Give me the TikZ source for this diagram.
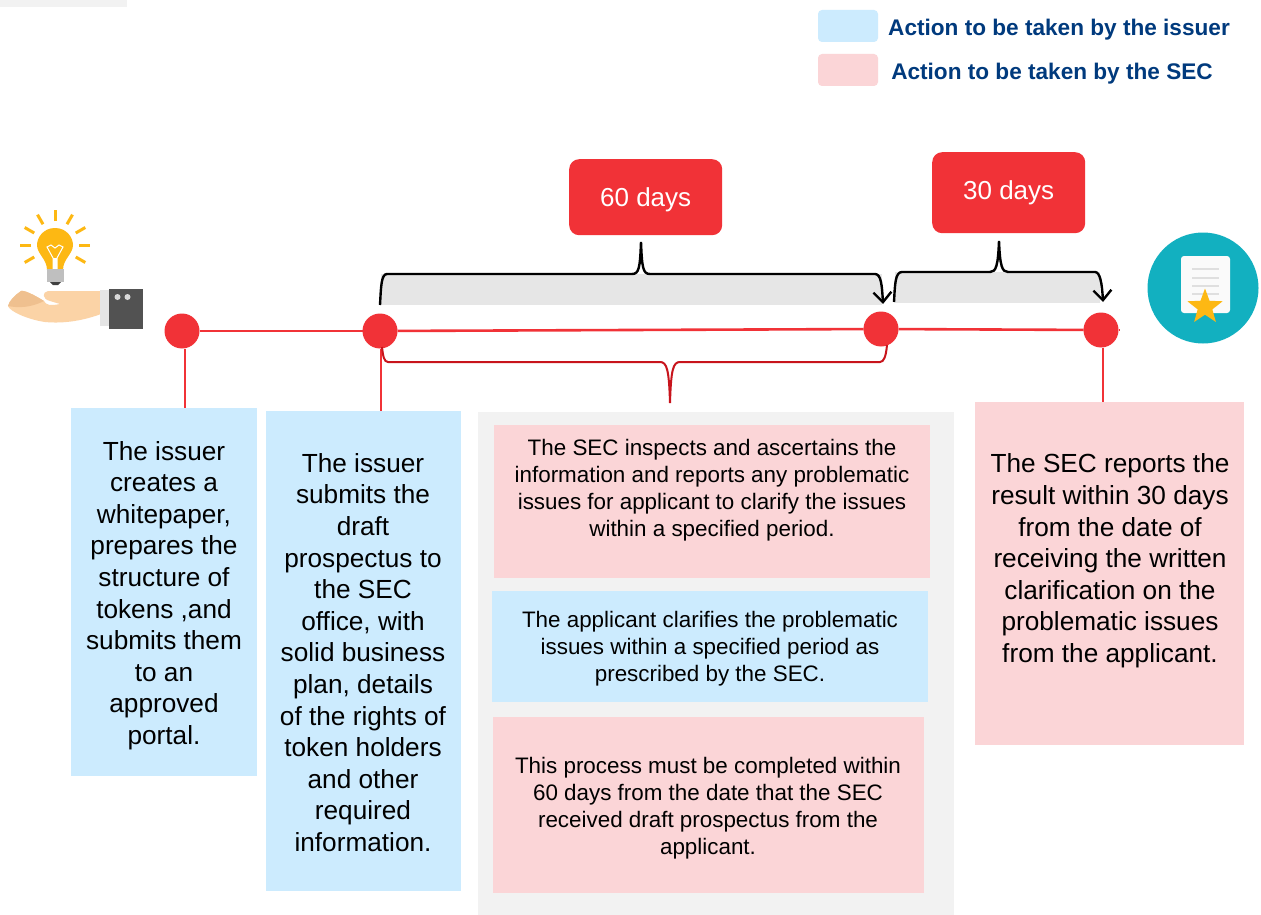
\documentclass[tikz,border=0pt]{standalone}
\usepackage{fontspec}
\setmainfont{Liberation Sans}
\usetikzlibrary{arrows.meta,shapes.geometric}
\definecolor{issuerblue}{HTML}{CCEBFE}
\definecolor{secpink}{HTML}{FBD5D7}
\definecolor{dotred}{HTML}{F13237}
\definecolor{darkred}{HTML}{C8141C}
\definecolor{navy}{HTML}{003A7D}
\definecolor{bandgray}{HTML}{E6E6E6}
\definecolor{panel}{HTML}{F2F2F2}
\definecolor{teal}{HTML}{12B0C0}
\definecolor{gold}{HTML}{FDB813}
\definecolor{skin}{HTML}{FBD3A6}
\definecolor{skindark}{HTML}{EFC08F}
\tikzset{
  x=1pt,y=-1pt,
  boxnode/.style={anchor=north west,inner sep=0pt,outer sep=0pt},
  bluebox/.style={boxnode,fill=issuerblue},
  pinkbox/.style={boxnode,fill=secpink},
  bigtext/.style={inner sep=0pt,align=center,font=\fontsize{26.2}{31.6}\selectfont},
  smalltext/.style={inner sep=0pt,align=center,font=\fontsize{22.4}{27.1}\selectfont},
  legendtext/.style={inner sep=0pt,text=navy,font=\bfseries\fontsize{22.6}{26}\selectfont},
  dot/.style={circle,fill=dotred,minimum size=35pt,inner sep=0pt,outer sep=0pt},
  tagbox/.style={anchor=north west,fill=dotred,rounded corners=10pt,inner sep=0pt,text=white,font=\fontsize{26}{30}\selectfont},
  redline/.style={draw=dotred,line width=2.6pt},
  blackbrace/.style={draw=black,line width=2.4pt},
  redbrace/.style={draw=darkred,line width=2pt},
  arrowed/.style={-{Straight Barb[length=10pt,width=18pt,line width=2.4pt]}},
}
\begin{document}
\begin{tikzpicture}
\useasboundingbox[fill=white] (0,0) rectangle (1261,915);
\fill[panel] (0,0) rectangle (127,7);
% legend
\node[bluebox,rounded corners=4pt,minimum width=60pt,minimum height=32pt] (legblue) at (818,10) {};
\node[pinkbox,rounded corners=4pt,minimum width=60pt,minimum height=32pt] (legpink) at (818,54) {};
\node[legendtext] (legbluet) at (1059,30) {Action to be taken by the issuer};
\node[legendtext] (legpinkt) at (1052,74) {Action to be taken by the SEC};
% shaded bands
\fill[bandgray] (381,274) rectangle (882,305);
\fill[bandgray] (895,272) rectangle (1100,303);
% tags
\node[tagbox,minimum width=153pt,minimum height=76pt,text depth=-3pt] (tag60) at (569,159) {60 days};
\node[tagbox,minimum width=153pt,minimum height=81pt] (tag30) at (932,152) {30 days};
% dots
\node[dot] (d1) at (182,331) {};
\node[dot] (d2) at (380,331) {};
\node[dot] (d3) at (881,329) {};
\node[dot] (d4) at (1101,330) {};
% boxes
\node[bluebox,minimum width=186pt,minimum height=368pt] (b1) at (71,408) {};
\node[bluebox,minimum width=195pt,minimum height=480pt] (b2) at (266,411) {};
\node[boxnode,fill=panel,minimum width=476pt,minimum height=503pt] (pan) at (478,412) {};
\node[pinkbox,minimum width=436pt,minimum height=153pt] (p1) at (494,425) {};
\node[bluebox,minimum width=436pt,minimum height=111pt] (p2) at (492,591) {};
\node[pinkbox,minimum width=431pt,minimum height=176pt] (p3) at (493,717) {};
\node[pinkbox,minimum width=269pt,minimum height=343pt] (b4) at (975,402) {};
% timeline
\draw[redline] (d1) -- (d2);
\draw[redline] (d2) -- (d3);
\draw[redline] (d3) -- (d4);
\coordinate (d4end) at (1120,330);
\draw[redline] (d4) -- (d4end);
\draw[redline] (d1.south -| 185,0) -- (b1.north -| 185,0);
\draw[redline] (d2.south -| 381,0) -- (b2.north -| 381,0);
\draw[redline] (d4.south -| 1103,0) -- (b4.north -| 1103,0);
% black braces
\draw[blackbrace,arrowed] (380,305) .. controls (381,288) and (381,274) .. (387,274)
  -- (632,274) .. controls (639,274) and (640,268) .. (641,242)
  .. controls (642,268) and (643,274) .. (650,274)
  -- (875,274) .. controls (881,274) and (882,285) .. (883,304);
\draw[blackbrace,arrowed] (894,302) .. controls (895,285) and (895,272) .. (902,272)
  -- (990,272) .. controls (996,272) and (998,266) .. (999,241)
  .. controls (1000,266) and (1002,272) .. (1008,272)
  -- (1095,272) .. controls (1100,272) and (1102,283) .. (1103,302);
% red brace
\draw[redbrace] (382,347) .. controls (383,356) and (384,362) .. (388,362)
  -- (660,362) .. controls (667,362) and (669,370) .. (670,403)
  .. controls (671,370) and (673,362) .. (680,362)
  -- (880,362) .. controls (884,362) and (886,356) .. (887,345);
% texts
\node[bigtext] (t1) at (164,595.5) {The issuer\\creates a\\whitepaper,\\prepares the\\structure of\\tokens ,and\\submits them\\to an\\approved\\portal.};
\node[bigtext] (t2) at (363,652.5) {The issuer\\submits the\\draft\\prospectus to\\the SEC\\office, with\\solid business\\plan, details\\of the rights of\\token holders\\and other\\required\\information.};
\node[smalltext] (t3) at (712,490) {The SEC inspects and ascertains the\\information and reports any problematic\\issues for applicant to clarify the issues\\within a specified period.};
\node[smalltext] (t4) at (710,649) {The applicant clarifies the problematic\\issues within a specified period as\\prescribed by the SEC.};
\node[smalltext] (t5) at (708,808) {This process must be completed within\\60 days from the date that the SEC\\received draft prospectus from the\\applicant.};
\node[bigtext] (t6) at (1110,561) {The SEC reports the\\result within 30 days\\from the date of\\receiving the written\\clarification on the\\problematic issues\\from the applicant.};
% bulb and hand icon
\begin{scope}
  \foreach \a in {0,30,60,90,120,150,180,210,330}{
    \draw[gold,line width=3pt] ({55+cos(\a)*24},{245-sin(\a)*24}) -- ({55+cos(\a)*35},{245-sin(\a)*35});
  }
  \fill[gold] (55,228) .. controls (43,228) and (37,238) .. (37,245)
    .. controls (37,254) and (47,259) .. (47,270) -- (63,270)
    .. controls (63,259) and (73,254) .. (73,245)
    .. controls (73,238) and (67,228) .. (55,228) -- cycle;
  \draw[white,line width=1pt] (53,269) -- (53,258) -- (47,247) -- (51,245) -- (55,248) -- (59,245) -- (63,247) -- (57,258) -- (57,269);
  \fill[white] (53,258) rectangle (57,269);
  \fill[lightgray] (47,269) rectangle (64,282);
  \fill[darkgray] (50,282) -- (61,282) -- (58,285) -- (53,285) -- cycle;
  \fill[skin] (101,291) .. controls (85,291) and (65,291) .. (48,291)
    .. controls (42,292) and (42,299) .. (50,301) -- (60,304)
    .. controls (50,306) and (46,305) .. (44,301)
    .. controls (36,296) and (25,290) .. (21,291)
    .. controls (15,295) and (9,301) .. (8,306)
    .. controls (10,312) and (30,320) .. (45,322)
    .. controls (65,324) and (85,320) .. (101,314) -- cycle;
  \fill[skindark] (21,291) .. controls (15,295) and (9,301) .. (8,306)
    .. controls (18,308) and (30,308) .. (44,301)
    .. controls (36,296) and (25,290) .. (21,291) -- cycle;
  \fill[gray!20] (100,290) rectangle (110,326);
  \fill[black!68] (109,289) rectangle (143,329);
  \fill[gray!30] (117.5,297) circle (3pt);
  \fill[gray!30] (127.5,297) circle (3pt);
\end{scope}
% certificate icon
\begin{scope}
  \fill[teal] (1203,288) circle (55.5pt);
  \fill[white!96!gray,rounded corners=3pt] (1181,256) rectangle (1230,313);
  \foreach \yy in {269,278,286,294}{
    \draw[gray!25,line width=2pt] (1192,\yy) -- (1219,\yy);
  }
  \node[star,star points=5,star point ratio=2.4,fill=gold,minimum size=37pt,inner sep=0pt] (starmark) at (1205,307) {};
\end{scope}
\end{tikzpicture}
\end{document}
